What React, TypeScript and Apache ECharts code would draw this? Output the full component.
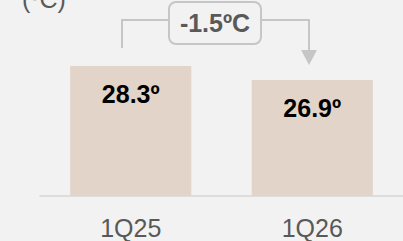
import React, { useEffect, useRef } from "react";
import * as echarts from "echarts";

const categories = ["1Q25", "1Q26"];
const values = [28.3, 26.9];
const valueLabels = ["28.3º", "26.9º"];
const unitLabel = "(ºC)";
const deltaLabel = "-1.5ºC";

const FONT = "'Liberation Sans', Arial, sans-serif";
const LINE = "#c6c6c6";

export default function App() {
  const ref = useRef<HTMLDivElement>(null);
  useEffect(() => {
    document.body.style.margin = "0";
    const chart = echarts.init(ref.current!, null, { renderer: "svg" });
    chart.setOption({
      animation: false,
      backgroundColor: "#f2f2f2",
      grid: { left: 40, right: 0, top: 6, bottom: 45 },
      xAxis: {
        type: "category",
        data: categories,
        axisLine: { lineStyle: { color: "#d6d6d6", width: 1.5 } },
        axisTick: { show: false },
        axisLabel: {
          color: "#595959",
          fontSize: 25,
          fontFamily: FONT,
          margin: 19,
        },
      },
      yAxis: {
        type: "value",
        min: 15.3,
        max: 34.3,
        show: false,
        splitLine: { show: false },
      },
      series: [
        {
          type: "bar",
          data: values,
          barWidth: "66.7%",
          itemStyle: { color: "#e2d4c8" },
          label: {
            show: true,
            position: "insideTop",
            distance: 15,
            formatter: (p: any) => valueLabels[p.dataIndex],
            color: "#000000",
            fontSize: 25,
            fontWeight: "bold",
            fontFamily: FONT,
          },
        },
      ],
      graphic: [
        {
          type: "text",
          left: 22,
          top: -14,
          style: {
            text: unitLabel,
            fill: "#595959",
            font: `25px ${FONT}`,
          },
        },
        {
          type: "polyline",
          shape: { points: [[122, 48], [122, 20], [169, 20]] },
          style: { stroke: LINE, lineWidth: 2, fill: null },
        },
        {
          type: "polyline",
          shape: { points: [[261, 20], [309, 20], [309, 52]] },
          style: { stroke: LINE, lineWidth: 2, fill: null },
        },
        {
          type: "polygon",
          shape: { points: [[301, 50], [317, 50], [309, 65]] },
          style: { fill: LINE },
        },
        {
          type: "rect",
          shape: { x: 169, y: 2, width: 92, height: 42, r: 7 },
          style: { fill: "#f2f2f2", stroke: LINE, lineWidth: 2 },
        },
        {
          type: "text",
          x: 215,
          y: 23,
          style: {
            text: deltaLabel,
            fill: "#595959",
            font: `bold 25px ${FONT}`,
            align: "center",
            verticalAlign: "middle",
          },
        },
      ],
    });
    return () => chart.dispose();
  }, []);
  return <div ref={ref} style={{ width: 403, height: 241 }} />;
}
